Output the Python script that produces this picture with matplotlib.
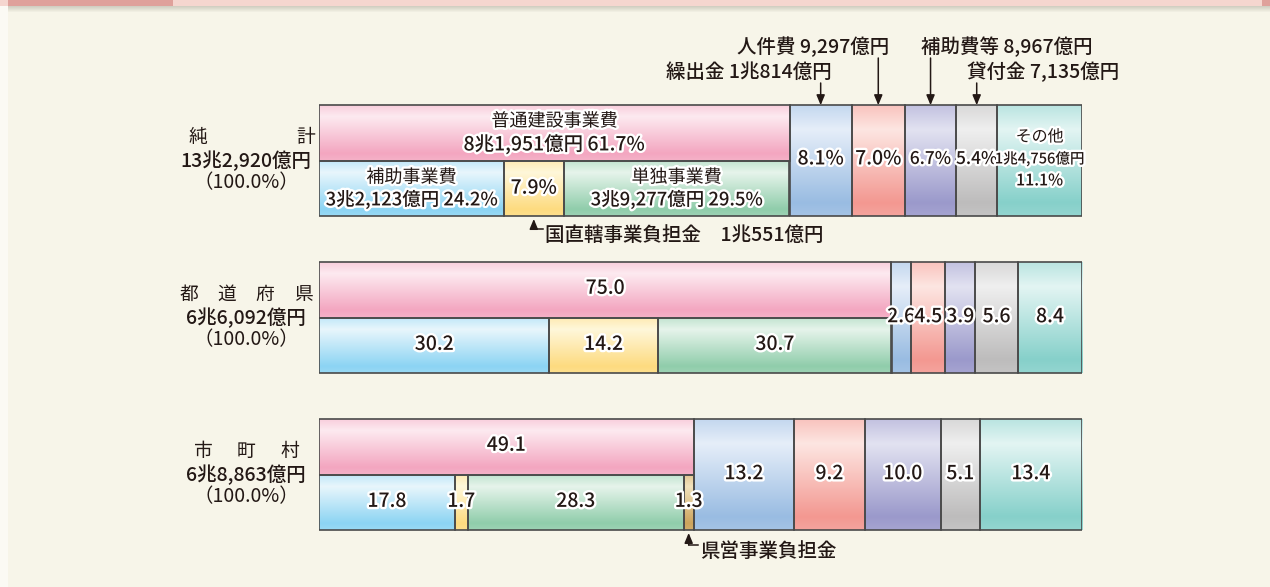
import numpy as np
import matplotlib.pyplot as plt
import matplotlib.patheffects as pe
from matplotlib.colors import LinearSegmentedColormap, to_rgb
from matplotlib.patches import Rectangle

plt.rcParams['font.family'] = ['Noto Sans CJK JP', 'DejaVu Sans']

# 団体区分
group_titles = [['純', '計'], ['都', '道', '府', '県'], ['市', '町', '村']]
group_totals = ['13兆2,920億円', '6兆6,092億円', '6兆8,863億円']

# 上段：普通建設事業費、下段：その内訳（%）
futsu = [61.7, 75.0, 49.1]
hojo = [24.2, 30.2, 17.8]
kuni = [7.9, 14.2, 1.7]
tandoku = [29.5, 30.7, 28.3]
kenei = [0.0, 0.0, 1.3]

# 右側（%）
kuridashi = [8.1, 2.6, 13.2]
jinken = [7.0, 4.5, 9.2]
hojohi = [6.7, 3.9, 10.0]
kashitsuke = [5.4, 5.6, 5.1]
sonota = [11.1, 8.4, 13.4]

# 純計の金額
futsu_amount = '8兆1,951億円'
hojo_amount = '3兆2,123億円'
tandoku_amount = '3兆9,277億円'
sonota_amount = '1兆4,756億円'
kuni_amount = '1兆551億円'
callout_names = ['繰出金', '人件費', '補助費等', '貸付金']
callout_amounts = ['1兆814億円', '9,297億円', '8,967億円', '7,135億円']

ink = '#231815'
edge = '#4a4a4a'
bg = '#f7f5e9'

# 色（明るい側, 濃い側）
shades = {
    'futsu': ('#fdeaf0', '#f3a6c0'),
    'hojo': ('#e8f6fc', '#8cd4f3'),
    'kuni': ('#fff7da', '#fddb80'),
    'tandoku': ('#e6f4eb', '#90cdab'),
    'kenei': ('#f2e2bd', '#cda45c'),
    'kuridashi': ('#e6eef9', '#99bce2'),
    'jinken': ('#fde6e2', '#f39891'),
    'hojohi': ('#e2e2f1', '#9b99cb'),
    'kashitsuke': ('#efefef', '#bdbcbc'),
    'sonota': ('#e3f5f3', '#86d0ca'),
}


def gradient_cmap(light, dark):
    l = np.array(to_rgb(light))
    d = np.array(to_rgb(dark))
    stops = [(0.0, 0.45), (0.22, 0.0), (0.88, 1.0), (1.0, 0.85)]
    return LinearSegmentedColormap.from_list('g', [(p, l + (d - l) * t) for p, t in stops])


grad = np.linspace(0, 1, 256).reshape(-1, 1)

fig = plt.figure(figsize=(12.7, 5.87), dpi=100, facecolor=bg)

# 帯（上部）
fig.add_artist(Rectangle((0, 0), 8 / 1270, 1, transform=fig.transFigure, color='#fbfaf4', lw=0))
for i in range(6):
    fig.add_artist(Rectangle((8 / 1270, 1 - (7 + i) / 587), 1, 1 / 587, transform=fig.transFigure,
                             color='#8a8a7a', alpha=0.35 * (1 - i / 6), lw=0))
fig.add_artist(Rectangle((0, 1 - 6 / 587), 1, 6 / 587, transform=fig.transFigure, color='#f5d6cf', lw=0))
fig.add_artist(Rectangle((8 / 1270, 1 - 6 / 587), 165 / 1270, 6 / 587, transform=fig.transFigure, color='#dfa19b', lw=0))
fig.add_artist(Rectangle((1262 / 1270, 1 - 6 / 587), 8 / 1270, 6 / 587, transform=fig.transFigure, color='#dfa19b', lw=0))

ax = fig.add_axes([319 / 1270, 0, 763 / 1270, 1])
ax.set_facecolor('none')
ax.axis('off')

Y0 = 160.5   # 純計の中心（px）
PX_Y = 157.0  # 1区分あたりの高さ（px）
PX_X = 7.63   # 1%あたりの幅（px）
H = 55.3 / PX_Y
ylim = ((587 - Y0) / PX_Y, -Y0 / PX_Y)


def py(p):
    return (p - Y0) / PX_Y


def px(p):
    return (p - 319) / PX_X


stroke = [pe.withStroke(linewidth=3.4, foreground='white')]


def segment(left, width, center, height, key):
    if width <= 0:
        return None
    b = ax.barh(center, width, left=left, height=height, color='none',
                edgecolor=edge, linewidth=1.2, zorder=3)[0]
    x, y, w, h = b.get_x(), b.get_y(), b.get_width(), b.get_height()
    im = ax.imshow(grad, cmap=gradient_cmap(*shades[key]), extent=(x, x + w, y + h, y),
                   aspect='auto', origin='upper', zorder=2, interpolation='bilinear')
    im.set_clip_path(b)
    return b


def label(x, y, s, size=14, weight=500):
    ax.text(x, y, s, ha='center', va='center', fontsize=size, color=ink, fontweight=weight,
            path_effects=stroke, zorder=5)


right_keys = ['kuridashi', 'jinken', 'hojohi', 'kashitsuke', 'sonota']
right_vals = [kuridashi, jinken, hojohi, kashitsuke, sonota]
lower_keys = ['hojo', 'kuni', 'tandoku', 'kenei']
lower_vals = [hojo, kuni, tandoku, kenei]

centers = {}
for g in range(3):
    # 上段
    segment(0, futsu[g], g - H / 2, H, 'futsu')
    # 下段
    left = 0
    for key, vals in zip(lower_keys, lower_vals):
        segment(left, vals[g], g + H / 2, H, key)
        centers[(g, key)] = left + vals[g] / 2
        left += vals[g]
    # 右側
    left = futsu[g]
    for key, vals in zip(right_keys, right_vals):
        segment(left, vals[g], g, 2 * H, key)
        centers[(g, key)] = left + vals[g] / 2
        left += vals[g]

# 純計の中の文字
label(futsu[0] / 2, -H / 2 - 0.074, '普通建設事業費', size=13, weight='normal')
label(futsu[0] / 2, -H / 2 + 0.072, f'{futsu_amount} {futsu[0]:.1f}%')
label(centers[(0, 'hojo')], H / 2 - 0.068, '補助事業費', size=13, weight='normal')
label(centers[(0, 'hojo')], H / 2 + 0.072, f'{hojo_amount} {hojo[0]:.1f}%', size=13.3)
label(centers[(0, 'kuni')], H / 2, f'{kuni[0]:.1f}%')
label(centers[(0, 'tandoku')], H / 2 - 0.068, '単独事業費', size=13, weight='normal')
label(centers[(0, 'tandoku')], H / 2 + 0.072, f'{tandoku_amount} {tandoku[0]:.1f}%', size=13.3)
for key, vals in zip(right_keys[:4], right_vals[:4]):
    size = 14 if vals[0] >= 7 else 12.5
    label(centers[(0, key)], -0.01, f'{vals[0]:.1f}%', size=size)
label(centers[(0, 'sonota')], -0.15, 'その他', size=11.5, weight='normal')
label(centers[(0, 'sonota')], -0.01, sonota_amount, size=10.5)
label(centers[(0, 'sonota')], 0.13, f'{sonota[0]:.1f}%', size=11.5)

# 都道府県・市町村の数値
for g in (1, 2):
    label(futsu[g] / 2, g - H / 2 - 0.01, f'{futsu[g]:.1f}')
    for key, vals in zip(lower_keys, lower_vals):
        if vals[g] > 0:
            label(centers[(g, key)], g + H / 2 - 0.005, f'{vals[g]:.1f}')
    for key, vals in zip(right_keys, right_vals):
        label(centers[(g, key)], g - 0.005, f'{vals[g]:.1f}')

# 左の見出し
spreads = [(197.5, 305.5), (189, 303), (203, 290)]
for g in range(3):
    chars = group_titles[g]
    xs = np.linspace(spreads[g][0], spreads[g][1], len(chars))
    for c, x in zip(chars, xs):
        ax.text(px(x), g - 0.145, c, ha='center', va='center', fontsize=13.5, color=ink)
    ax.text(px(246), g, group_totals[g], ha='center', va='center', fontsize=14,
            fontweight=500, color=ink)
    ax.text(px(246), g + 0.143, '（100.0%）', ha='center', va='center', fontsize=14,
            color=ink)

# 上の引出し
arrow_kw = dict(arrowstyle='-|>,head_length=0.6,head_width=0.25', color=ink, lw=1.1,
                shrinkA=0, shrinkB=0)
bar_top = -H
starts = [py(83), py(58), py(58), py(83)]
for i, key in enumerate(right_keys[:4]):
    cx = centers[(0, key)]
    ax.annotate('', xy=(cx, bar_top), xytext=(cx, starts[i]), arrowprops=arrow_kw, zorder=6)
    text = f'{callout_names[i]} {callout_amounts[i]}'
    if i < 2:
        ax.text(cx + 11 / PX_X, starts[i] - 0.07, text, ha='right', va='center', fontsize=14,
                fontweight=500, color=ink)
    else:
        ax.text(cx - 10 / PX_X, starts[i] - 0.07, text, ha='left', va='center', fontsize=14,
                fontweight=500, color=ink)


# 下の引出し（国直轄・県営）
def elbow(cx, bottom, elbow_y, text):
    ax.annotate('', xy=(cx, bottom + 0.02), xytext=(cx, elbow_y), arrowprops=arrow_kw, zorder=6)
    ax.plot([cx, cx + 9 / PX_X], [elbow_y, elbow_y], color=ink, lw=1.1, zorder=6)
    ax.text(cx + 11 / PX_X, elbow_y + 0.04, text, ha='left', va='center', fontsize=14,
            fontweight=500, color=ink)


elbow(centers[(0, 'kuni')], H, py(229), f'国直轄事業負担金　{kuni_amount}')
elbow(centers[(2, 'kenei')], 2 + H, py(545), '県営事業負担金')

ax.set_xlim(0, 100)
ax.set_ylim(*ylim)

fig.savefig('out.png', dpi=100, facecolor=bg)
